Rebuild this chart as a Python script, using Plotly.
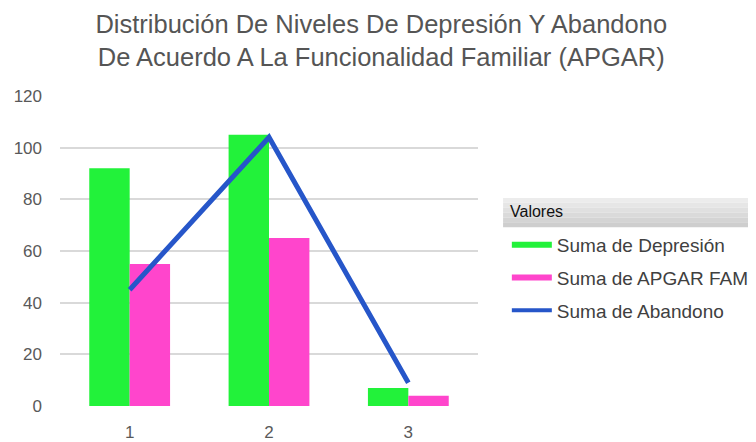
import plotly.graph_objects as go

categorias = [1, 2, 3]
depresion = [92, 105, 7]
apgar_fam = [55, 65, 4]
abandono = [45, 104, 9]

nombres = ['Suma de Depresión', 'Suma de APGAR FAM', 'Suma de Abandono']
colores = ['#22f23a', '#ff45cc', '#2656c9']

# la página tiene 8px de margen en el body, así que la figura es 8px más chica
W, H = 748, 434

fig = go.Figure()

# barras (sin leyenda, la leyenda va con trazas de línea para que salga el rectángulo ancho)
fig.add_trace(go.Bar(x=categorias, y=depresion, name=nombres[0],
                     marker=dict(color=colores[0], line=dict(width=0)),
                     legendgroup='dep', showlegend=False))
fig.add_trace(go.Bar(x=categorias, y=apgar_fam, name=nombres[1],
                     marker=dict(color=colores[1], line=dict(width=0)),
                     legendgroup='apg', showlegend=False))
fig.add_trace(go.Scatter(x=categorias, y=abandono, name=nombres[2], mode='lines',
                         line=dict(color=colores[2], width=5),
                         legendgroup='aba', showlegend=False))

# entradas de leyenda
for nombre, color, grupo in zip(nombres, colores, ['dep', 'apg', 'aba']):
    fig.add_trace(go.Scatter(x=[None], y=[None], mode='lines', name=nombre,
                             line=dict(color=color, width=6 if grupo != 'aba' else 4),
                             legendgroup=grupo))

# barra gris con degradado detrás de "Valores"
bandas = ['#ececec', '#e6e6e6', '#e0e0e0', '#dadada', '#d4d4d4', '#cecece']
y0, y1 = 0.577, 0.671
paso = (y1 - y0) / len(bandas)
shapes = []
for i, c in enumerate(bandas):
    shapes.append(dict(type='rect', xref='paper', yref='paper',
                       x0=1.06, x1=1.70,
                       y0=y1 - (i + 1) * paso, y1=y1 - i * paso,
                       fillcolor=c, line=dict(width=0), layer='below'))

fig.update_layout(
    width=W, height=H,
    margin={'l': 52, 'r': 278, 't': 88, 'b': 36, 'autoexpand': False},
    paper_bgcolor='white',
    plot_bgcolor='white',
    barmode='group',
    bargap=0.42,
    bargroupgap=0,
    font={'family': 'Liberation Sans, Arial, sans-serif', 'color': '#595959'},
    title={
        'text': 'Distribución De Niveles De Depresión Y Abandono<br>De Acuerdo A La Funcionalidad Familiar (APGAR)',
        'font': {'size': 25.5, 'color': '#555555'},
        'x': 0.499, 'xanchor': 'center',
        'y': 0.943, 'yanchor': 'top',
    },
    xaxis={
        'range': [0.5, 3.5],
        'tickvals': categorias,
        'ticktext': [str(c) for c in categorias],
        'showgrid': False,
        'zeroline': False,
        'showline': False,
        'automargin': False,
        'tickfont': {'size': 17, 'color': '#595959'},
        'ticklabelstandoff': 14,
    },
    yaxis={
        'range': [0, 120],
        'dtick': 20,
        'showgrid': True,
        'gridcolor': '#d9d9d9',
        'gridwidth': 1.5,
        'zeroline': False,
        'automargin': False,
        'tickfont': {'size': 17, 'color': '#595959'},
        'ticklabelstandoff': 17,
    },
    legend={
        'x': 1.069, 'xanchor': 'left',
        'y': 0.581, 'yanchor': 'top',
        'font': {'size': 19, 'color': '#404040'},
        'itemwidth': 40,
        'tracegroupgap': 5,
        'bgcolor': 'rgba(0,0,0,0)',
    },
    showlegend=True,
    annotations=[dict(text='Valores', xref='paper', yref='paper',
                      x=1.072, y=0.626, xanchor='left', yanchor='middle',
                      showarrow=False, font={'size': 16, 'color': '#111111'})],
    shapes=shapes,
)

fig.write_html("out.html")
